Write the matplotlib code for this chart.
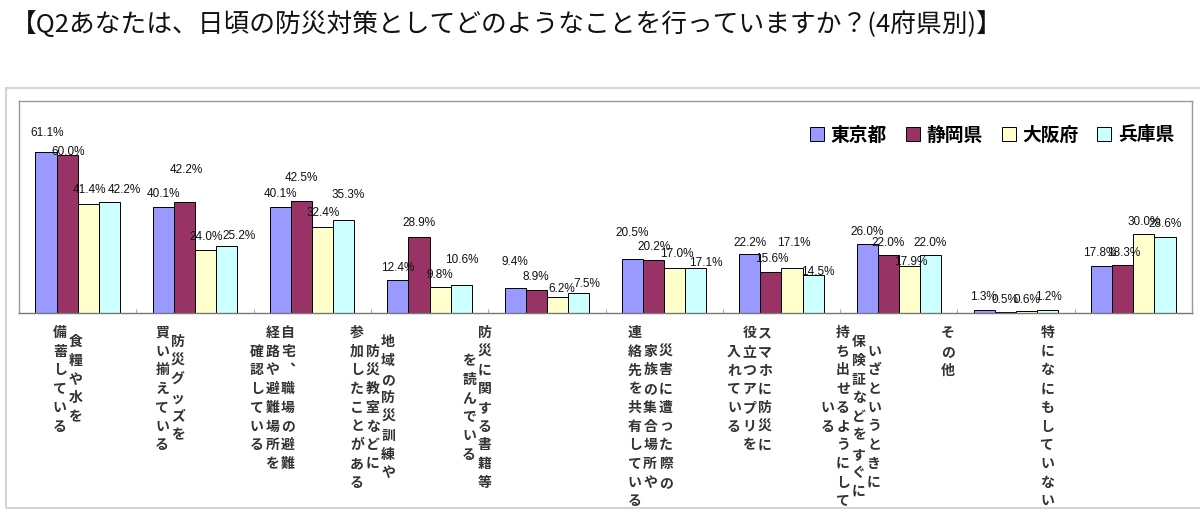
import numpy as np
import matplotlib
matplotlib.use("Agg")
from matplotlib import pyplot as plt
from matplotlib.patches import Rectangle

plt.rcParams["font.family"] = ["Noto Sans CJK JP", "DejaVu Sans"]

# categories, written as vertical columns (first column is the rightmost)
categories = [
    ["食糧や水を", "備蓄している"],
    ["防災グッズを", "買い揃えている"],
    ["自宅︑職場の避難", "経路や避難場所を", "確認している"],
    ["地域の防災訓練や", "防災教室などに", "参加したことがある"],
    ["防災に関する書籍等", "を読んでいる"],
    ["災害に遭った際の", "家族の集合場所や", "連絡先を共有している"],
    ["スマホに防災に", "役立つアプリを", "入れている"],
    ["いざというときに", "保険証などをすぐに", "持ち出せるようにして", "いる"],
    ["その他"],
    ["特になにもしていない"],
]
regions = ["東京都", "静岡県", "大阪府", "兵庫県"]
tokyo = [61.1, 40.1, 40.1, 12.4, 9.4, 20.5, 22.2, 26.0, 1.3, 17.8]
shizuoka = [60.0, 42.2, 42.5, 28.9, 8.9, 20.2, 15.6, 22.0, 0.5, 18.3]
osaka = [41.4, 24.0, 32.4, 9.8, 6.2, 17.0, 17.1, 17.9, 0.6, 30.0]
hyogo = [42.2, 25.2, 35.3, 10.6, 7.5, 17.1, 14.5, 22.0, 1.2, 28.6]
series = [tokyo, shizuoka, osaka, hyogo]

colors = ["#9999FF", "#993366", "#FFFFCC", "#CCFFFF"]

# label nudges (pixels) to follow the original's label placement
label_dy = [
    [19, 13, 13, 12, 26, 26, 11, 12, 13, 13],
    [3, 32, 23, 14, 13, 13, 13, 12, 12, 12],
    [14, 13, 14, 12, 8, 14, 25, 4, 11, 12],
    [12, 10, 25, 25, 9, 5, 3, 12, 13, 13],
]
label_dx = [
    [1, 0, 0, 0, 0, 0, 0, 0, -1, -2],
    [1, 2, 0, 0, 0, 0, 1, 0, -1, 1],
    [1, 1, 0, 0, 4, 2, 2, 1, 0, 0],
    [15, 12, 4, 1, 8, 10, 5, 0, 1, 0],
]
cat_label_shift = [-10, -25, -40, -57, -70, -14, -32, -48, -68, -86]

fig = plt.figure(figsize=(12, 5.13), dpi=100)
fig.patches.append(
    Rectangle((6 / 1200, 5 / 513), 1.0, 420 / 513, transform=fig.transFigure,
              fill=False, edgecolor="#d4d4d4", linewidth=1.5)
)
ax = fig.add_axes([19 / 1200, 1 - 313 / 513, 1173 / 1200, 212 / 513])

x = np.arange(len(categories))
width = 0.18
for i, vals in enumerate(series):
    pos = x + (i - 1.5) * width
    ax.bar(pos, vals, width, color=colors[i], edgecolor="black",
           linewidth=0.7, label=regions[i])
    for j, v in enumerate(vals):
        ax.annotate(f"{v:.1f}%", xy=(pos[j], v),
                    xytext=(label_dx[i][j], label_dy[i][j]),
                    textcoords="offset pixels", ha="center", va="center",
                    fontsize=8.5, family="Liberation Sans", color="#111111")

ax.set_xlim(-0.5, len(categories) - 0.5)
ax.set_ylim(0, 80.3)
ax.set_yticks([])
ax.set_xticks(np.arange(len(categories) + 1) - 0.5)
ax.set_xticklabels([])
ax.tick_params(axis="x", direction="in", length=3, color="#aaaaaa")
for s in ax.spines.values():
    s.set_color("#999999")
    s.set_linewidth(1)
ax.spines["bottom"].set_color("#777777")

# vertical category labels
pitch = 18.7
col_pitch = 15.5
for j, cols in enumerate(categories):
    longest = max(len(c) for c in cols)
    n = len(cols)
    for k, col in enumerate(cols):
        cx = cat_label_shift[j] + ((n - 1) / 2 - k) * col_pitch
        start = (longest - len(col)) / 2
        for m, ch in enumerate(col):
            cy = 20 + (start + m) * pitch
            ax.annotate(ch, xy=(x[j], 0), xycoords=("data", "axes fraction"),
                        xytext=(cx, -cy), textcoords="offset pixels",
                        ha="center", va="center", fontsize=10,
                        fontweight="bold", color="#333333",
                        annotation_clip=False)

ax.legend(loc="center right", bbox_to_anchor=(1174 / 1200, 1 - 135 / 513),
          bbox_transform=fig.transFigure, ncol=4, frameon=False,
          prop={"weight": "bold", "size": 13.5},
          handlelength=0.75, handleheight=0.75, handletextpad=0.35,
          columnspacing=1.0, borderpad=0, borderaxespad=0)

fig.text(11 / 1200, 1 - 25 / 513,
         "【Q2あなたは、日頃の防災対策としてどのようなことを行っていますか？(4府県別)】",
         ha="left", va="center", fontsize=18.5, color="#111111")

fig.savefig("out.png", dpi=100)
